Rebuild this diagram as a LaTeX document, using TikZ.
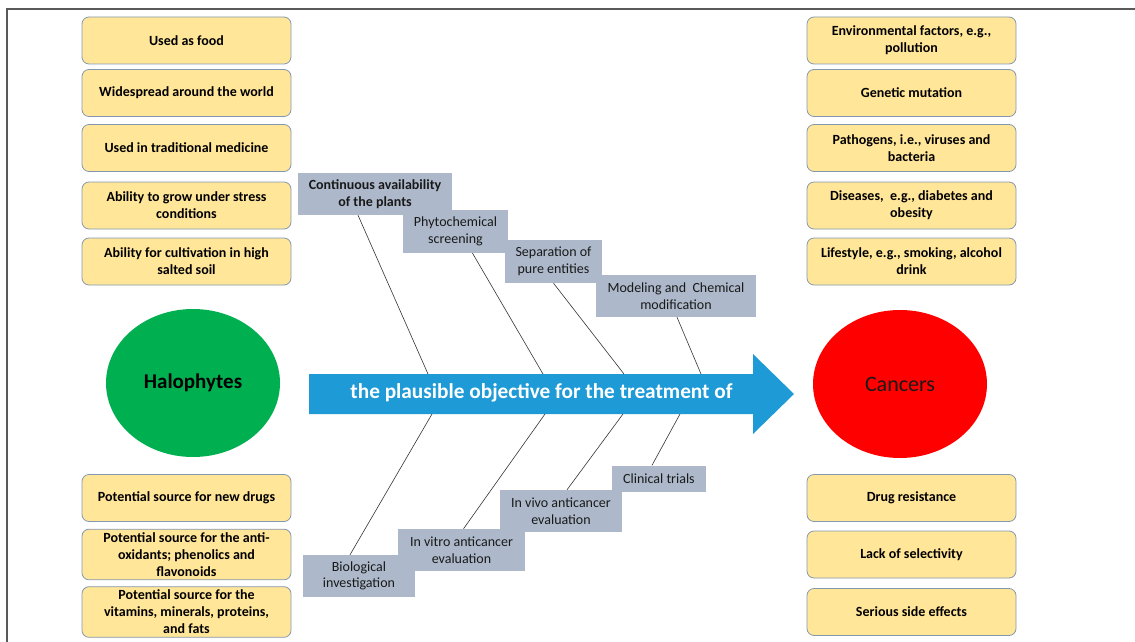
\documentclass[tikz,border=0pt]{standalone}
\usepackage{fontspec}
\setmainfont{Carlito}
\usetikzlibrary{shapes.geometric}
\definecolor{factfill}{HTML}{FFE699}
\definecolor{factedge}{HTML}{8497B0}
\definecolor{stepgrey}{HTML}{ADB9CA}
\definecolor{aimblue}{HTML}{1E9AD6}
\definecolor{halogreen}{HTML}{00B050}
\definecolor{cancerred}{HTML}{FF0000}
\definecolor{framegrey}{HTML}{595959}

\begin{document}
\begin{tikzpicture}[x=1pt,y=-1pt,
  fact/.style={draw=factedge,line width=0.8pt,rounded corners=7pt,fill=factfill,minimum width=209pt,minimum height=47pt,align=center,font=\fontsize{14}{17}\selectfont\bfseries},
  stepbox/.style={fill=stepgrey,inner sep=0pt,align=center,text=black!90,font=\fontsize{14}{16.5}\selectfont},
  blob/.style={ellipse,inner sep=0pt,minimum width=174pt,minimum height=148pt,font=\fontsize{22}{25}\selectfont},
  bone/.style={draw=black!80,line width=0.6pt}]
  \useasboundingbox (0,0) rectangle (1135,642);
  \draw[framegrey,line width=1.2pt] (7,642) -- (7,9) -- (1135,9);

  % why halophytes
  \node[fact] (food) at (186.5,40.5) {Used as food};
  \node[fact] (world) at (186.5,93) {Widespread around the world};
  \node[fact] (medicine) at (186.5,148) {Used in traditional medicine};
  \node[fact] (stress) at (186.5,205.5) {Ability to grow under stress\\conditions};
  \node[fact] (salt) at (186.5,261.5) {Ability for cultivation in high\\salted soil};
  \node[fact] (drugs) at (186.5,498) {Potential source for new drugs};
  \node[fact] (antiox) at (186.5,554.5) {Potential source for the anti-\\oxidants; phenolics and\\flavonoids};
  \node[fact] (vitamins) at (186.5,612) {Potential source for the\\vitamins, minerals, proteins,\\and fats};

  % causes and problems of cancer
  \node[fact] (env) at (911.5,40.5) {Environmental factors, e.g.,\\pollution};
  \node[fact] (gene) at (911.5,93) {Genetic mutation};
  \node[fact] (pathogen) at (911.5,148) {Pathogens, i.e., viruses and\\bacteria};
  \node[fact] (disease) at (911.5,205.5) {Diseases,\ \ e.g., diabetes and\\obesity};
  \node[fact] (life) at (911.5,261.5) {Lifestyle, e.g., smoking, alcohol\\drink};
  \node[fact] (resist) at (911.5,498) {Drug resistance};
  \node[fact] (select) at (911.5,554.5) {Lack of selectivity};
  \node[fact] (side) at (911.5,612) {Serious side effects};

  \node[blob,fill=halogreen,text=black,font=\fontsize{21}{25}\selectfont\bfseries] (halo) at (193,383) {Halophytes};
  \node[blob,fill=cancerred,text=black!90] (cancer) at (900,384) {Cancers};

  % main arrow
  \fill[aimblue] (309,374) -- (753,374) -- (753,354) -- (794,394) -- (753,434) -- (753,414) -- (309,414) -- cycle;
  \node[text=white,font=\fontsize{21.3}{24}\selectfont\bfseries] (aim) at (541.5,393) {the plausible objective for the treatment of};
  \coordinate (t1) at (428,374);
  \coordinate (t2) at (543,374);
  \coordinate (t3) at (624,374);
  \coordinate (t4) at (701,374);
  \coordinate (b1) at (432,414);
  \coordinate (b2) at (545,414);
  \coordinate (b3) at (623,414);
  \coordinate (b4) at (680,414);

  % upper steps
  \node[stepbox,minimum width=154pt,minimum height=42pt,font=\fontsize{14}{16.5}\selectfont\bfseries] (avail) at (375,194) {Continuous availability\\of the plants};
  \node[stepbox,minimum width=105pt,minimum height=43pt] (phyto) at (455.5,231.5) {Phytochemical\\screening};
  \node[stepbox,minimum width=97pt,minimum height=43pt] (pure) at (553.5,261.5) {Separation of\\pure entities};
  \node[stepbox,minimum width=160pt,minimum height=42pt] (model) at (676,296) {Modeling and~ Chemical\\modification};

  % lower steps
  \node[stepbox,minimum width=112pt,minimum height=42pt] (bio) at (359,576) {Biological\\investigation};
  \node[stepbox,minimum width=127pt,minimum height=42pt] (vitro) at (461.5,550) {In vitro anticancer\\evaluation};
  \node[stepbox,minimum width=122pt,minimum height=42pt] (vivo) at (561,511) {In vivo anticancer\\evaluation};
  \node[stepbox,minimum width=94pt,minimum height=26pt] (clinic) at (659,478.5) {Clinical trials};

  \draw[bone] ([xshift=-17pt]avail.south) -- (t1);
  \draw[bone] ([xshift=17pt]phyto.south) -- (t2);
  \draw[bone] (pure.south) -- (t3);
  \draw[bone] ([xshift=1pt]model.south) -- (t4);
  \draw[bone] (b1) -- ([xshift=-9pt]bio.north);
  \draw[bone] (b2) -- ([xshift=2pt]vitro.north);
  \draw[bone] (b3) -- ([xshift=6pt]vivo.north);
  \draw[bone] (b4) -- ([xshift=-7pt]clinic.north);
\end{tikzpicture}
\end{document}
